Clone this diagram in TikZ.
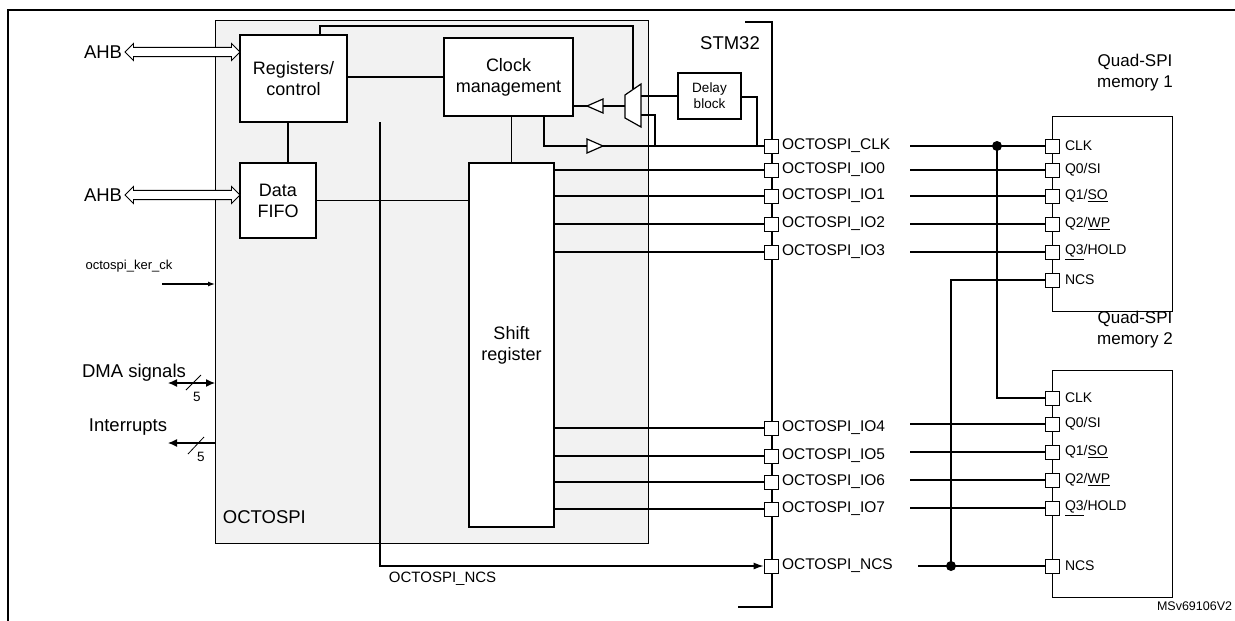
\documentclass[tikz,border=0pt]{standalone}
\usepackage{fontspec}
\setmainfont{Liberation Sans}
\usetikzlibrary{arrows.meta,positioning,shapes.arrows,calc}
\begin{document}
\begin{tikzpicture}[x=1pt,y=-1pt,every path/.style={line width=1.2pt}]
  \tikzstyle{blk} = [draw,fill=white,align=center,font=\fontsize{18}{21}\selectfont,inner sep=0pt];
  \tikzstyle{pad} = [draw,fill=white,minimum size=14pt,inner sep=0pt,line width=0.8pt];
  \tikzstyle{plbl} = [right=2pt,font=\fontsize{15.5}{17}\selectfont,inner sep=1pt];
  \tikzstyle{mlbl} = [right=4pt,font=\fontsize{14}{16}\selectfont,inner sep=1pt];
  \tikzstyle{bus} = [double arrow,draw,fill=white,minimum width=17pt,double arrow head extend=2pt,inner sep=2pt,line width=0.9pt];
  \tikzstyle{big} = [font=\fontsize{18.5}{21}\selectfont];
  \useasboundingbox (0,0) rectangle (1235,621);
  % frame
  \draw (1240,10) -- (8,10) -- (8,630);
  % OCTOSPI block
  \node[draw,fill=gray!10,minimum width=433pt,minimum height=523pt,anchor=north west,line width=0.8pt] (octo) at (215,20) {};
  \node[big,anchor=west] at (219,517) {OCTOSPI};
  \node[blk,minimum width=107pt,minimum height=87pt] (reg) at (293.5,78.5) {Registers/\\control};
  \node[blk,minimum width=129pt,minimum height=78pt] (clk) at (508.5,77) {Clock\\management};
  \node[blk,minimum width=76pt,minimum height=75pt] (fifo) at (278,200.5) {Data\\FIFO};
  \node[blk,minimum width=85pt,minimum height=364pt] (shift) at (511.5,345) {Shift\\register};
  \node[blk,minimum width=63pt,minimum height=46pt,font=\fontsize{13.5}{16}\selectfont] (delay) at (709.5,96) {Delay\\block};
  % mux
  \draw[fill=white] (625,95) -- (641,84) -- (641,127) -- (625,118) -- cycle;
  \coordinate (mux) at (625,106);
  % STM32 boundary
  \draw (745,22) -- (772,22) -- (772,607) -- (738,607);
  \node[big] at (730,43) {STM32};
  % pads
  \foreach \n/\y/\t in {pclk/146/CLK,p0/170/IO0,p1/196/IO1,p2/224/IO2,p3/252/IO3,p4/428/IO4,p5/456/IO5,p6/482/IO6,p7/509/IO7,pncs/566/NCS}{
    \node[pad] (\n) at (771,\y) {};
    \node[plbl] at (\n.east) {OCTOSPI\_\t};
  }
  % internal links
  \draw (reg.east |- 0,77) -- (clk.west |- 0,77);
  \draw (reg.south -| 288,0) -- (fifo.north -| 288,0);
  \draw (clk.south -| shift) -- (shift.north);
  \draw (fifo.east) -- (fifo.east -| shift.west);
  \draw (reg.north -| 320,0) |- (633,26) -- (633,89);
  \draw (clk.east |- mux) -- (587,106);
  \draw[fill=white] (587,106) -- (603,99) -- (603,113) -- cycle;
  \draw (603,106) -- (mux);
  \draw (641,96) -- (delay.west |- 0,96);
  \draw (delay.east |- 0,97) -| (757,146);
  \draw (641,115) -| (655,146);
  \draw (544,116) |- (587,146);
  \draw[fill=white] (603,146) -- (587,139) -- (587,153) -- cycle;
  \draw (603,146) -- (pclk.west);
  \foreach \n in {p0,p1,p2,p3,p4,p5,p6,p7}{
    \draw (shift.east |- \n) -- (\n.west);
  }
  \draw[-{Latex[length=10pt,width=7pt]}] (380,122) |- (pncs.west);
  \node[anchor=west,font=\fontsize{15}{17}\selectfont] at (385,579) {OCTOSPI\_NCS};
  % left side signals
  \node[big,anchor=east] at (126,52) {AHB};
  \node[bus,minimum height=115pt] (ahb1) at (182.5,52) {};
  \node[big,anchor=east] at (126,195) {AHB};
  \node[bus,minimum height=115pt] (ahb2) at (182.5,195) {};
  \node[font=\fontsize{13}{15}\selectfont] at (129,266) {octospi\_ker\_ck};
  \coordinate (kck) at (162,284);
  \draw[-{Latex[length=7pt,width=5pt]}] (kck) -- (octo.west |- kck);
  \node[big] at (134,373) {DMA signals};
  \coordinate (dma) at (168,383);
  \draw[{Latex[length=9pt,width=8pt]}-{Latex[length=9pt,width=8pt]}] (dma) -- (octo.west |- dma);
  \draw[line width=0.8pt] (186,390) -- (201,375);
  \node[font=\fontsize{13.5}{15}\selectfont] at (197,397) {5};
  \node[big] at (128,427) {Interrupts};
  \coordinate (irq) at (168,443);
  \draw[{Latex[length=9pt,width=8pt]}-] (irq) -- (octo.west |- irq);
  \draw[line width=0.8pt] (188,454) -- (204,437);
  \node[font=\fontsize{13.5}{15}\selectfont] at (201,457) {5};
  % memories
  \node[draw,fill=white,minimum width=120pt,minimum height=195pt,anchor=north west,line width=0.8pt] (mem1) at (1052,116) {};
  \node[draw,fill=white,minimum width=120pt,minimum height=227pt,anchor=north west,line width=0.8pt] (mem2) at (1052,370) {};
  \node[align=center,font=\fontsize{17}{21}\selectfont] at (1135,73) {Quad-SPI\\memory 1};
  \node[align=center,font=\fontsize{17}{21}\selectfont] at (1135,330) {Quad-SPI\\memory 2};
  \foreach \m/\y/\t in {a/146/CLK,b/170/{Q0/SI},c/196/{Q1/\underline{SO}},d/224/{Q2/\underline{WP}},e/252/{\underline{Q3}/HOLD},f/280/NCS}{
    \node[pad] (m1\m) at (1052,\y) {};
    \node[mlbl] at (m1\m.east) {\t};
  }
  \foreach \m/\y/\t in {a/398/CLK,b/424/{Q0/SI},c/452/{Q1/\underline{SO}},d/480/{Q2/\underline{WP}},e/508/{\underline{Q3}/HOLD},f/566/NCS}{
    \node[pad] (m2\m) at (1052,\y) {};
    \node[mlbl] at (m2\m.east) {\t};
  }
  % external wiring
  \coordinate (clkdot) at (997,146);
  \coordinate (ncsdot) at (951,566);
  \draw (m1a.west) -- ++(-135,0);
  \draw (clkdot) |- (m2a.west);
  \fill (clkdot) circle (5pt);
  \foreach \n in {m1b,m1c,m1d,m1e,m2b,m2c,m2d,m2e}{
    \draw (\n.west) -- ++(-135,0);
  }
  \draw (m2f.west) -- ++(-127,0);
  \draw (ncsdot) |- (m1f.west);
  \fill (ncsdot) circle (5pt);
  \node[anchor=east,font=\fontsize{12.5}{14}\selectfont] at (1236,606) {MSv69106V2};
\end{tikzpicture}
\end{document}
